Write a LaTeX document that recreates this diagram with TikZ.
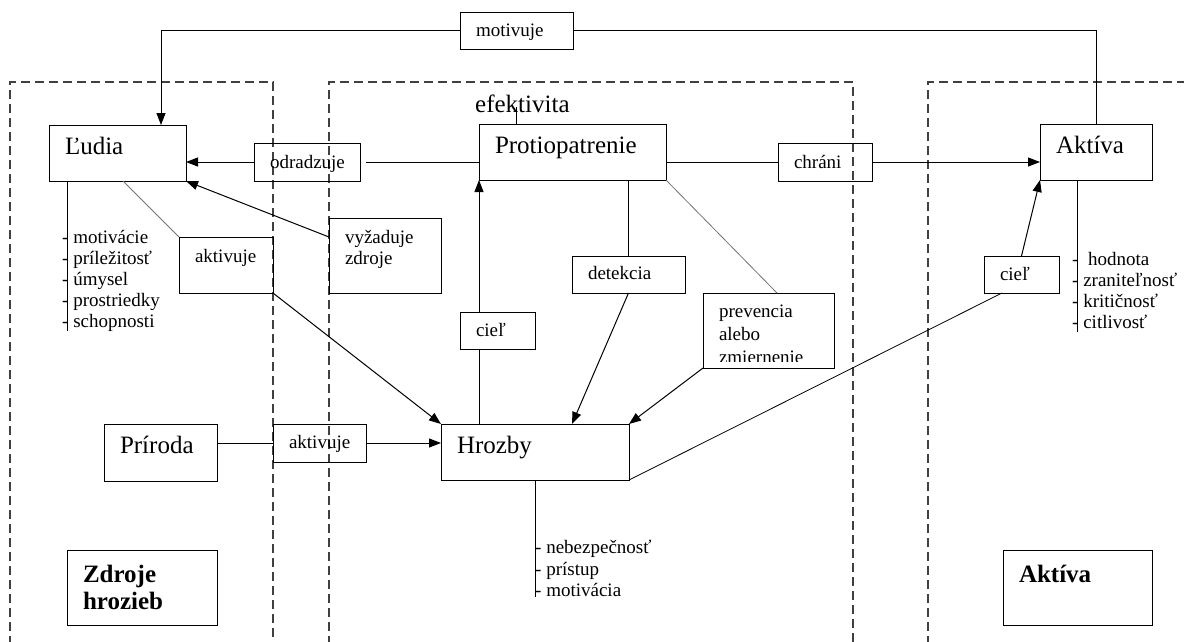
\documentclass[tikz,border=0pt]{standalone}
\usepackage{fontspec}
\setmainfont{Liberation Serif}
\usetikzlibrary{arrows.meta}

\begin{document}
\begin{tikzpicture}
[x=1pt, y=-1pt,
  boxDecorate/.style={draw, line width=1pt, anchor=north west, inner xsep=16pt, inner ysep=0pt, outer sep=0pt, align=left},%
  bigText/.style={font=\fontsize{25}{27}\selectfont},%
  smallText/.style={font=\fontsize{19}{21}\selectfont},%
  listDecorate/.style={anchor=base west, inner sep=0pt, smallText},%
  lineDecorate/.style={-, line width=1pt},%
  arrowDecorate/.style={-{Triangle[length=12pt,width=9pt]}, line width=1pt},%
  faintDecorate/.style={-, line width=0.8pt, draw=black!55},%
  regionDecorate/.style={line width=1.2pt, draw=black!75, dash pattern=on 9pt off 5pt}]
\useasboundingbox (0,0) rectangle (1184,641);
%% regions
\draw[regionDecorate] (10,645) |- (273,82) -- (273,645);
\draw[regionDecorate] (329,645) |- (853,82) -- (853,645);
\draw[regionDecorate] (928,645) |- (1190,82);
%% main boxes
\foreach \nodename/\x/\y/\w/\h/\b/\txt in {
  ludia/49/125/137/56/29/{Ľudia}, protio/479/124/187/56/29/{Protiopatrenie},
  aktiva/1040/124/112/56/29/{Aktíva}, hrozby/441/424/188/56/29/{Hrozby},
  priroda/104/424/113/57/29/{Príroda},
  zdroje/67/550/150/75/32/{\bfseries Zdroje\\hrozieb},
  aktivaTitle/1003/550/149/75/32/{\bfseries Aktíva}}
{
  \pgfmathsetmacro\tw{\w-32}
  \pgfmathsetmacro\td{\h-\b}
  \node (\nodename) at (\x,\y) [boxDecorate, bigText, text width=\tw pt, text height=\b pt, text depth=\td pt] {\txt};
}
%% label boxes
\foreach \nodename/\x/\y/\w/\h/\b/\txt in {
  motivuje/460/12/113/37/24/{motivuje}, odradzuje/254/143/106/38/25/{odradzuje},
  chrani/778/143/94/38/25/{chráni}, aktivuje/179/237/94/56/25/{aktivuje},
  vyzaduje/329/218/112/75/25/{vyžaduje\\zdroje}, detekcia/572/256/113/37/23/{detekcia},
  cielA/460/312/75/37/24/{cieľ}, cielB/984/256/75/37/24/{cieľ},
  aktivujeB/273/424/93/38/24/{aktivuje}}
{
  \pgfmathsetmacro\tw{\w-32}
  \pgfmathsetmacro\td{\h-\b}
  \node (\nodename) at (\x,\y) [boxDecorate, smallText, text width=\tw pt, text height=\b pt, text depth=\td pt] {\txt};
}
\begin{scope}
  \clip (690,280) rectangle (850,361);
  \node (prevencia) at (703,293) [boxDecorate, font=\fontsize{19}{23}\selectfont, text width=99pt, text height=24pt, text depth=51pt] {prevencia\\alebo\\zmiernenie};
\end{scope}
\draw[lineDecorate] (prevencia.north west) rectangle (prevencia.south east);
\node (efekt) at (475,112) [anchor=base west, inner sep=0pt, bigText] {efektivita};
%% attribute lists
\foreach \attr [count=\i] in {motivácie, príležitosť, úmysel, prostriedky, schopnosti}
  \node (ludiaAttr\i) at (62,222+21*\i) [listDecorate] {- \attr};
\foreach \attr [count=\i] in {zraniteľnosť, kritičnosť, citlivosť}
  \node (aktivaAttr\i) at (1072,265+21*\i) [listDecorate] {- \attr};
\node (aktivaAttr0) at (1072,265) [listDecorate] {-~~hodnota};
\foreach \attr [count=\i] in {nebezpečnosť, prístup, motivácia}
  \node (hrozbyAttr\i) at (535,532+21.5*\i) [listDecorate] {- \attr};
\draw[lineDecorate] ([xshift=18pt]ludia.south west) -- ++(0,150);
\draw[lineDecorate] ([xshift=37pt]aktiva.south west) -- ++(0,152);
\draw[lineDecorate] (hrozby.south) -- ++(0,117);
%% connectors
\draw[lineDecorate] (aktiva.north) |- (motivuje.east);
\draw[arrowDecorate] (motivuje.west) -| ([xshift=112pt]ludia.north west);
\draw[lineDecorate] (protio.west |- odradzuje.east) -- ([xshift=6pt]odradzuje.east);
\draw[arrowDecorate] (odradzuje.west) -- (odradzuje.west -| ludia.east);
\draw[lineDecorate] (protio.east |- chrani.west) -- (chrani.west);
\draw[arrowDecorate] (chrani.east) -- (chrani.east -| aktiva.west);
\draw[lineDecorate] ([xshift=37pt]protio.north west) -- ++(0,-17);
\draw[arrowDecorate] ([yshift=-19pt]vyzaduje.north west) -- (ludia.south east);
\draw[faintDecorate] ([xshift=74pt]ludia.south west) -- (aktivuje.north west);
\draw[arrowDecorate] (aktivuje.south east) -- (hrozby.north west);
\draw[lineDecorate] (priroda.east |- aktivujeB.west) -- (aktivujeB.west);
\draw[arrowDecorate] (aktivujeB.east) -- (aktivujeB.east -| hrozby.west);
\draw[lineDecorate] (hrozby.north -| protio.west) -- (cielA.south -| protio.west);
\draw[arrowDecorate] (cielA.north -| protio.west) -- (protio.south west);
\draw[lineDecorate] (detekcia.north) -- (detekcia.north |- protio.south);
\draw[arrowDecorate] (detekcia.south) -- ([xshift=131pt]hrozby.north west);
\draw[faintDecorate] (protio.south east) -- ([xshift=74pt]prevencia.north west);
\draw[arrowDecorate] (prevencia.south west) -- (hrozby.north east);
\draw[lineDecorate, line width=0.8pt] (hrozby.south east) -- ([xshift=18pt]cielB.south west);
\draw[arrowDecorate] (cielB.north) -- (aktiva.south west);
\end{tikzpicture}
\end{document}
